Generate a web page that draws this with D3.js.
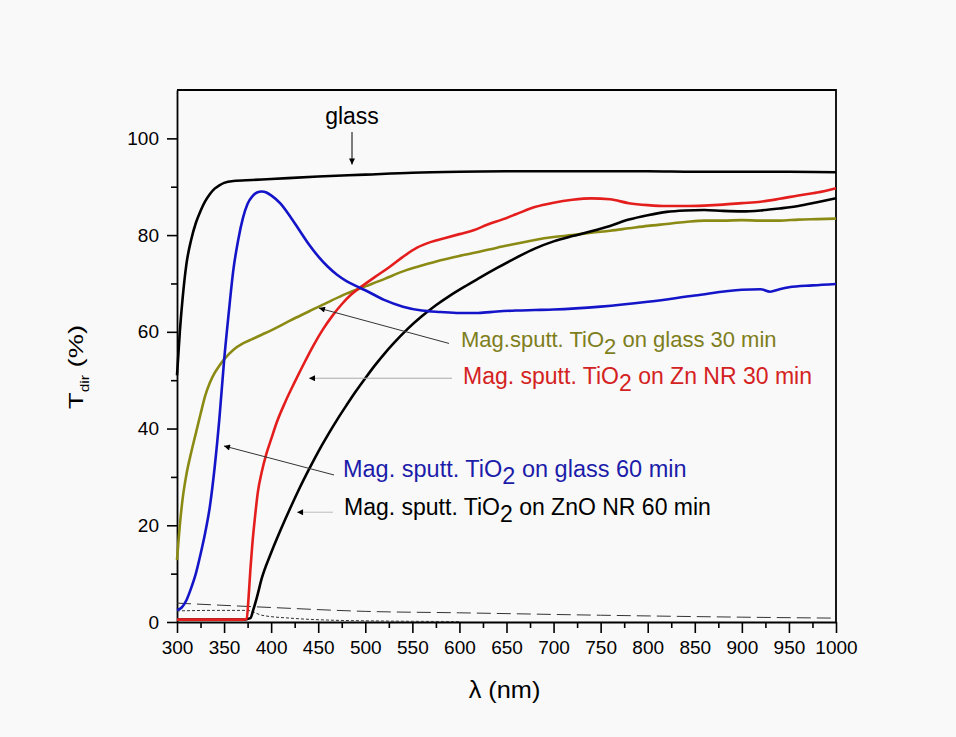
<!DOCTYPE html>
<html>
<head>
<meta charset="utf-8">
<script src="https://cdn.jsdelivr.net/npm/d3@7"></script>
<style>
  body { margin: 0; background: #f9f9f9; }
  svg text { font-family: "Liberation Sans", Arial, sans-serif; }
</style>
</head>
<body>
<div id="chart"></div>
<script>
// wavelength (nm) and direct transmittance (%)
const glassX = [300, 303, 306, 310, 315, 320, 325, 330, 335, 340, 345, 350, 360, 380, 400, 450, 500, 550, 600, 650, 700, 750, 800, 850, 900, 950, 1000];
const glassY = [51, 60, 67, 74, 79, 82.5, 85, 87, 88.5, 89.6, 90.3, 90.8, 91.2, 91.4, 91.6, 92.1, 92.5, 92.9, 93.1, 93.2, 93.2, 93.2, 93.2, 93.1, 93.1, 93.1, 93.0];

const glass60X = [300, 305, 310, 315, 320, 325, 330, 335, 340, 345, 350, 355, 360, 365, 370, 375, 380, 385, 390, 395, 400, 410, 420, 430, 440, 450, 460, 470, 480, 490, 500, 520, 540, 560, 580, 600, 620, 640, 660, 680, 700, 750, 800, 850, 900, 920, 930, 940, 950, 975, 1000];
const glass60Y = [2.5, 3, 4.5, 7, 10, 14, 18.5, 24, 32, 42, 54, 64, 73, 79, 83.5, 86.5, 88, 88.8, 89, 88.8, 88.2, 86.5, 83.9, 81, 78.1, 75.6, 73.5, 71.8, 70.5, 69.5, 68.6, 66.6, 65.2, 64.4, 64.1, 63.9, 63.9, 64.2, 64.4, 64.5, 64.6, 65.2, 66.2, 67.5, 68.7, 68.8, 68.3, 68.8, 69.2, 69.6, 69.9];

const zn30X = [300, 320, 340, 360, 370, 374, 376, 378, 380, 383, 386, 390, 395, 400, 406, 415, 425, 435, 445, 455, 465, 475, 485, 497, 510, 525, 540, 555, 570, 585, 600, 615, 630, 645, 660, 680, 700, 720, 740, 760, 780, 800, 820, 840, 860, 880, 900, 920, 940, 960, 980, 1000];
const zn30Y = [0.5, 0.5, 0.5, 0.5, 0.5, 0.6, 5, 11, 16, 22, 27, 31, 34.8, 37.8, 41.3, 45.5, 49.6, 53.5, 57.2, 60.5, 63.3, 65.7, 67.7, 69.5, 71.3, 73.3, 75.5, 77.4, 78.6, 79.4, 80.2, 81, 82.2, 83.2, 84.3, 85.8, 86.7, 87.3, 87.6, 87.4, 86.6, 86.2, 86, 86, 86.1, 86.3, 86.6, 86.9, 87.5, 88.2, 88.8, 89.7];

const glass30X = [300, 303, 306, 310, 315, 320, 325, 330, 335, 340, 345, 350, 360, 370, 380, 390, 400, 420, 440, 460, 480, 500, 520, 540, 560, 580, 600, 620, 640, 660, 680, 700, 720, 740, 760, 780, 800, 820, 840, 860, 880, 900, 920, 940, 960, 980, 1000];
const glass30Y = [12.8, 20, 25.5, 30.5, 35, 39, 43, 46.8, 49.5, 51.5, 53, 54.3, 56.3, 57.6, 58.5, 59.4, 60.3, 62.3, 64.2, 66.1, 67.9, 69.4, 70.9, 72.5, 73.7, 74.8, 75.7, 76.5, 77.4, 78.2, 79, 79.6, 80, 80.5, 80.9, 81.4, 81.9, 82.3, 82.7, 83, 83, 83.1, 83, 83, 83.2, 83.3, 83.4];

const zno60X = [300, 340, 370, 378, 381, 385, 390, 400, 410, 420, 430, 440, 450, 460, 470, 480, 490, 500, 510, 520, 530, 545, 560, 575, 590, 605, 620, 640, 660, 680, 700, 720, 740, 760, 780, 800, 820, 840, 860, 880, 900, 920, 940, 960, 980, 1000];
const zno60Y = [0.5, 0.5, 0.5, 0.8, 2.5, 5.2, 9, 14.3, 19, 23.4, 27.6, 31.5, 35.2, 38.6, 41.8, 44.8, 47.7, 50.4, 53, 55.4, 57.6, 60.6, 63.2, 65.5, 67.5, 69.3, 71, 73.2, 75.3, 77.2, 78.7, 79.8, 80.8, 81.9, 83.2, 84.1, 84.8, 85.1, 85.2, 85, 84.9, 85.1, 85.5, 86, 86.8, 87.6];

// faint dashed traces near the baseline
const baseAX = [300, 400, 500, 600, 750, 900, 1000];
const baseAY = [3.9, 3.0, 2.2, 1.9, 1.4, 1.0, 0.8];
const baseBX = [300, 340, 375, 390, 420, 460, 520, 600];
const baseBY = [2.3, 2.4, 2.4, 1.4, 0.8, 0.4, 0.2, 0.1];

const xTicks = [300, 350, 400, 450, 500, 550, 600, 650, 700, 750, 800, 850, 900, 950, 1000];
const yTicks = [0, 20, 40, 60, 80, 100];

const width = 956, height = 737;
const margin = {top: 90, right: 120, bottom: 115, left: 177};
const w = width - margin.left - margin.right;
const h = height - margin.top - margin.bottom;

const svg = d3.select("#chart").append("svg")
    .attr("width", width)
    .attr("height", height);

svg.append("defs").append("marker")
    .attr("id", "head")
    .attr("viewBox", "0 0 10 10")
    .attr("refX", 10).attr("refY", 5)
    .attr("markerWidth", 11).attr("markerHeight", 6)
    .attr("markerUnits", "userSpaceOnUse")
    .attr("orient", "auto")
    .append("path")
    .attr("d", "M0,0 L10,5 L0,10 Z")
    .attr("fill", "#000");

const g = svg.append("g").attr("transform", `translate(${margin.left},${margin.top})`);

const x = d3.scaleLinear().domain([300, 1000]).range([0, w]);
const y = d3.scaleLinear().domain([0, 110]).range([h, 0]);

// axes: major + minor ticks pointing out
g.append("g").attr("transform", `translate(0,${h})`)
    .call(d3.axisBottom(x).tickValues(d3.range(325, 1000, 50)).tickSize(6).tickFormat(""))
    .call(a => a.select(".domain").remove());
g.append("g").attr("class", "x_axis").attr("transform", `translate(0,${h})`)
    .call(d3.axisBottom(x).tickValues(xTicks).tickSize(11).tickSizeOuter(0).tickPadding(8).tickFormat(d3.format("d")));
g.append("g")
    .call(d3.axisLeft(y).tickValues([10, 30, 50, 70, 90]).tickSize(6).tickFormat(""))
    .call(a => a.select(".domain").remove());
g.append("g").attr("class", "y_axis")
    .call(d3.axisLeft(y).tickValues(yTicks).tickSize(10).tickSizeOuter(0).tickPadding(8));

g.selectAll(".tick text").attr("font-size", 19).attr("fill", "#000");
g.selectAll(".tick line").attr("stroke", "#000").attr("stroke-width", 1.6);
g.selectAll(".domain").attr("stroke", "#000").attr("stroke-width", 1.8);

// top and right frame
g.append("path")
    .attr("d", `M0,0 H${w} V${h}`)
    .attr("fill", "none").attr("stroke", "#000").attr("stroke-width", 1.8);

const line = d3.line()
    .x(d => x(d[0]))
    .y(d => y(d[1]))
    .curve(d3.curveMonotoneX);
const zip = (a, b) => a.map((v, i) => [v, b[i]]);

g.append("path").datum(zip(baseAX, baseAY)).attr("d", line)
    .attr("fill", "none").attr("stroke", "#333").attr("stroke-width", 1).attr("stroke-dasharray", "14,6");
g.append("path").datum(zip(baseBX, baseBY)).attr("d", line)
    .attr("fill", "none").attr("stroke", "#333").attr("stroke-width", 1).attr("stroke-dasharray", "3,2");

const series = [
    {X: glassX, Y: glassY, color: "#000000"},
    {X: glass30X, Y: glass30Y, color: "#8a8a14"},
    {X: zno60X, Y: zno60Y, color: "#000000"},
    {X: zn30X, Y: zn30Y, color: "#e41d1d"},
    {X: glass60X, Y: glass60Y, color: "#1414c8"}
];

g.selectAll(".curve").data(series).enter()
    .append("path")
    .attr("class", "curve")
    .attr("d", d => line(zip(d.X, d.Y)))
    .attr("fill", "none")
    .attr("stroke", d => d.color)
    .attr("stroke-width", 2.6)
    .attr("stroke-linejoin", "round");

// annotations (positions in data units)
const notes = [
    {text: ["Mag.sputt. TiO", "2", " on glass 30 min"], at: [601.7, 56.8], from: [588.9, 57.6], to: [450.8, 64.9], color: "#7e7e1c", lc: "#333", fs: 22},
    {text: ["Mag. sputt. TiO", "2", " on Zn NR 30 min"], at: [603.8, 49.2], from: [592.1, 50.4], to: [440.2, 50.4], color: "#d42222", lc: "#aaa", fs: 23},
    {text: ["Mag. sputt. TiO", "2", " on glass 60 min"], at: [476.3, 30], from: [466.8, 30.4], to: [349.9, 36.4], color: "#1c1caa", lc: "#333", fs: 23.5},
    {text: ["Mag. sputt. TiO", "2", " on ZnO NR 60 min"], at: [477.4, 22.1], from: [465.7, 22.7], to: [427.5, 22.7], color: "#000", lc: "#bbb", fs: 23}
];

notes.forEach(function(n) {
    g.append("line")
        .attr("x1", x(n.from[0])).attr("y1", y(n.from[1]))
        .attr("x2", x(n.to[0])).attr("y2", y(n.to[1]))
        .attr("stroke", n.lc).attr("stroke-width", 1)
        .attr("marker-end", "url(#head)");
    let t = g.append("text")
        .attr("x", x(n.at[0])).attr("y", y(n.at[1]))
        .attr("fill", n.color).attr("font-size", n.fs);
    t.append("tspan").text(n.text[0]);
    t.append("tspan").attr("dy", 7).text(n.text[1]);
    t.append("tspan").attr("dy", -7).text(n.text[2]);
});

g.append("text")
    .attr("x", x(485.9)).attr("y", y(102.9))
    .attr("text-anchor", "middle").attr("font-size", 23)
    .text("glass");
g.append("line")
    .attr("x1", x(485.9)).attr("y1", y(101.3))
    .attr("x2", x(485.9)).attr("y2", y(94.6))
    .attr("stroke", "#000").attr("stroke-width", 1)
    .attr("marker-end", "url(#head)");

// axis titles
svg.append("text")
    .attr("transform", `translate(${margin.left + w / 2 - 2}, 698) scale(1.1,1)`)
    .attr("text-anchor", "middle").attr("font-size", 23)
    .text("λ (nm)");

const yt = svg.append("text")
    .attr("transform", `translate(83, 367) rotate(-90) scale(1.3,1)`)
    .attr("text-anchor", "middle").attr("font-size", 21);
yt.append("tspan").text("T");
yt.append("tspan").attr("dy", 6).attr("font-size", 12).text("dir");
yt.append("tspan").attr("dy", -6).text(" (%)");
</script>
</body>
</html>
